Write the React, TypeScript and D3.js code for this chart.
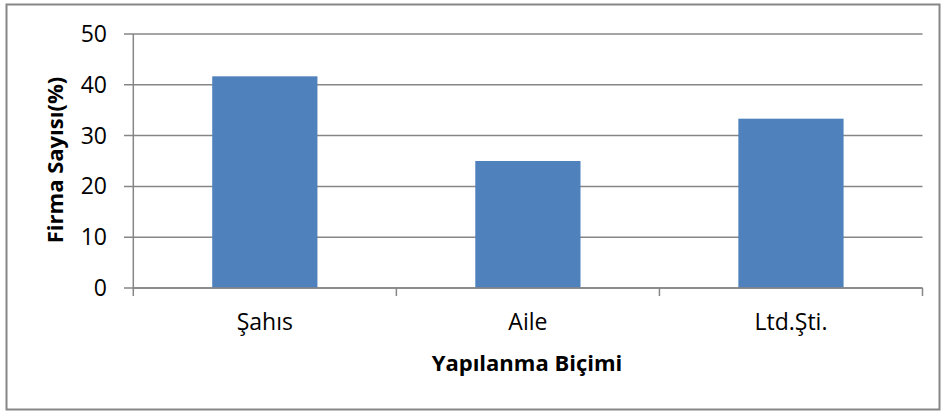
import React from "react";
import * as d3 from "d3";

const categories = ["Şahıs", "Aile", "Ltd.Şti."];
const values = [41.67, 25, 33.33];
const yTicks = [0, 10, 20, 30, 40, 50];
const xTitle = "Yapılanma Biçimi";
const yTitle = "Firma Sayısı(%)";

const W = 944;
const H = 412;
const plot = { left: 133.3, right: 922.5, top: 34, bottom: 288 };
const FONT = "'Open Sans', sans-serif";
const GRID = "#868686";
const BAR = "#4F81BD";

export default function App() {
  const x = d3
    .scaleBand<string>()
    .domain(categories)
    .range([plot.left, plot.right])
    .paddingInner(0.6)
    .paddingOuter(0.3);
  const y = d3.scaleLinear().domain([0, 50]).range([plot.bottom, plot.top]);
  const step = x.step();
  const boundaries = d3.range(categories.length + 1).map((i) => plot.left + i * step);

  return (
    <svg
      width={W}
      height={H}
      style={{ position: "absolute", left: 0, top: 0, background: "#fff" }}
      fontFamily={FONT}
    >
      <rect x={0} y={0} width={W} height={H} fill="#fff" />
      <rect x={6.5} y={4.5} width={933} height={405} fill="none" stroke={GRID} strokeWidth={2} />

      {/* horizontal gridlines with outside ticks */}
      {yTicks.map((t) => (
        <line
          key={"g" + t}
          x1={124}
          x2={plot.right}
          y1={y(t)}
          y2={y(t)}
          stroke={GRID}
          strokeWidth={1.5}
        />
      ))}

      {/* bars */}
      {categories.map((c, i) => (
        <rect
          key={c}
          x={x(c)}
          y={y(values[i])}
          width={x.bandwidth()}
          height={y(0) - y(values[i])}
          fill={BAR}
        />
      ))}

      {/* axes */}
      <line x1={plot.left} x2={plot.left} y1={plot.top} y2={plot.bottom} stroke={GRID} strokeWidth={1.5} />
      <line x1={plot.left} x2={plot.right} y1={plot.bottom} y2={plot.bottom} stroke={GRID} strokeWidth={1.5} />
      {boundaries.map((bx, i) => (
        <line key={"t" + i} x1={bx} x2={bx} y1={plot.bottom} y2={296} stroke={GRID} strokeWidth={1.5} />
      ))}

      {/* y tick labels */}
      {yTicks.map((t) => (
        <text key={"l" + t} x={107} y={y(t) + 8} textAnchor="end" fontSize={23} fill="#000">
          {t}
        </text>
      ))}

      {/* category labels */}
      {categories.map((c) => (
        <text
          key={"c" + c}
          x={(x(c) as number) + x.bandwidth() / 2}
          y={330}
          textAnchor="middle"
          fontSize={23}
          fill="#000"
        >
          {c}
        </text>
      ))}

      <text x={527} y={371} textAnchor="middle" fontSize={22} fontWeight="bold" fill="#000">
        {xTitle}
      </text>
      <text
        transform={`translate(63,160) rotate(-90)`}
        textAnchor="middle"
        fontSize={22}
        fontWeight="bold"
        fill="#000"
      >
        {yTitle}
      </text>
    </svg>
  );
}
